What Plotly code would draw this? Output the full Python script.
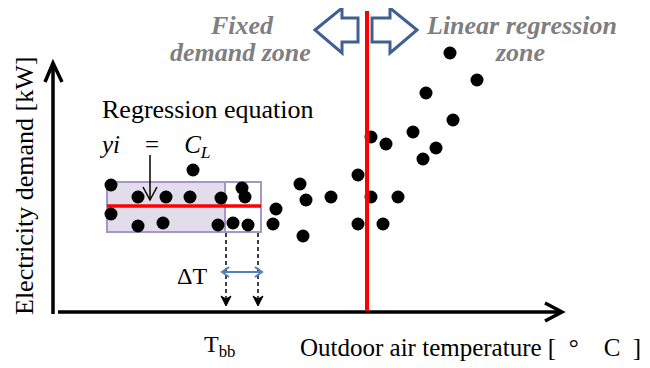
import plotly.graph_objects as go

# ---- data (chart-space coordinates; y grows downward as in the drawing) ----
temperature = [111, 138, 166, 190, 193, 221, 242, 245, 111, 138, 163, 218, 233, 248,
               276, 273, 300, 306, 331, 303, 426, 477, 371, 386, 413, 453, 436, 423,
               358, 371, 398, 358, 383, 450]
demand = [185, 197, 197, 197, 170, 198, 188, 197, 214, 226, 223, 225, 223, 225,
          209, 224, 184, 200, 197, 236, 93, 80, 137, 144, 132, 120, 148, 159,
          175, 197, 197, 224, 224, 53]

fixed_zone_left = 107      # start of fixed-demand window
tbb_start = 225            # T_bb
tbb_end = 261              # T_bb + dT
c_l = 206                  # constant demand level C_L
boundary_t = 367           # change point between zones
axis_origin = (53, 312)
axis_end = (562, 63)

FONT = "Liberation Serif, Times New Roman, serif"
PAGE_MARGIN = 8  # default body margin of the html page

fig = go.Figure()
fig.add_trace(go.Scatter(x=temperature, y=demand, mode="markers",
                         marker=dict(size=13, color="black"),
                         hoverinfo="skip", showlegend=False))

shapes = []

def line(x0, y0, x1, y1, color="black", width=2, dash=None, layer="above"):
    d = dict(color=color, width=width)
    if dash:
        d["dash"] = dash
    shapes.append(dict(type="line", xref="x", yref="y", x0=x0, y0=y0, x1=x1, y1=y1,
                       line=d, layer=layer))

def path(p, color="black", width=2, fill=None, layer="above"):
    s = dict(type="path", xref="x", yref="y", path=p,
             line=dict(color=color, width=width), layer=layer)
    if fill:
        s["fillcolor"] = fill
    shapes.append(s)

# fixed zone box
shapes.append(dict(type="rect", xref="x", yref="y", x0=fixed_zone_left, x1=tbb_start,
                   y0=182, y1=232, fillcolor="#E3DDEB",
                   line=dict(color="#A596C8", width=2), layer="below"))
shapes.append(dict(type="rect", xref="x", yref="y", x0=tbb_start, x1=tbb_end,
                   y0=182, y1=232, fillcolor="rgba(0,0,0,0)",
                   line=dict(color="#A596C8", width=2), layer="below"))
# regression constant line
line(fixed_zone_left, c_l, tbb_end, c_l, color="#FF0000", width=3.5, layer="below")

# axes
ox, oy = axis_origin
ex, ey = axis_end
line(ox, oy + 2, ox, ey + 1, width=3.5)
path(f"M {ox-8},{ey+19} L {ox},{ey} L {ox+9},{ey+19}", width=3.5)
line(ox + 5, oy, ex - 2, oy, width=3.5)
path(f"M {ex-17},{oy-9} L {ex},{oy} L {ex-17},{oy+9}", width=3.5)

# boundary red line
line(boundary_t, 11, boundary_t, oy - 1, color="#FF0000", width=4)

# dashed drop lines with arrowheads
for xx in (tbb_start + 1, tbb_end - 3):
    line(xx, 233, xx, 300, width=1.5, dash="4px,3px")
    path(f"M {xx-5},296 L {xx},306 L {xx+5},296 L {xx},299 Z", width=1, fill="black")

# delta T arrow
blue = "#4F81BD"
line(224, 272, 260, 272, color=blue, width=2)
path("M 229,267 L 222,272 L 229,277", color=blue, width=2)
path("M 255,267 L 262,272 L 255,277", color=blue, width=2)

# equation pointer arrow
line(150, 155, 150, 199, width=1.5)
path("M 143,187 L 150,200 L 157,187", width=1.5)

# block arrows
arrow_c = "#3F6190"
path("M 315,30 L 342,8 L 342,18 L 358,18 L 358,42 L 342,42 L 342,53 Z",
     color=arrow_c, width=3, fill="white")
path("M 417,30 L 390,8 L 390,18 L 372,18 L 372,42 L 390,42 L 390,53 Z",
     color=arrow_c, width=3, fill="white")

ann = []

def text(x, y, t, size=24, color="black", xanchor="center", angle=0):
    ann.append(dict(x=x, y=y, xref="x", yref="y", text=t, showarrow=False,
                    xanchor=xanchor, yanchor="middle", textangle=angle,
                    font=dict(family=FONT, size=size, color=color)))

grey = "#7F7F7F"
text(242, 25, "<b><i>Fixed</i></b>", 26, grey)
text(240, 52, "<b><i>demand zone</i></b>", 26, grey)
text(521, 25, "<b><i>Linear regression</i></b>", 26, grey)
text(520, 52, "<b><i>zone</i></b>", 26, grey)
text(100, 109, "Regression equation", 26, xanchor="left")
text(97, 146, "<i>yi</i>  &nbsp; = &nbsp;  <i>C<sub>L</sub></i>", 25, xanchor="left")
text(192, 276, "ΔT", 24)
text(219, 346, "T<sub>bb</sub>", 24)
text(298, 347, "Outdoor air temperature [&nbsp;&nbsp;°&nbsp;&nbsp;&nbsp; C&nbsp;&nbsp;]", 25,
     xanchor="left")
text(24, 186, "Electricity demand [kW]", 26, angle=-90)

fig.update_layout(
    width=650 - PAGE_MARGIN, height=368 - PAGE_MARGIN,
    margin=dict(l=0, r=0, t=0, b=0),
    paper_bgcolor="white", plot_bgcolor="white",
    xaxis=dict(range=[PAGE_MARGIN, 650], visible=False, fixedrange=True),
    yaxis=dict(range=[368, PAGE_MARGIN], visible=False, fixedrange=True),
    shapes=shapes, annotations=ann,
)
fig.write_html("out.html")
